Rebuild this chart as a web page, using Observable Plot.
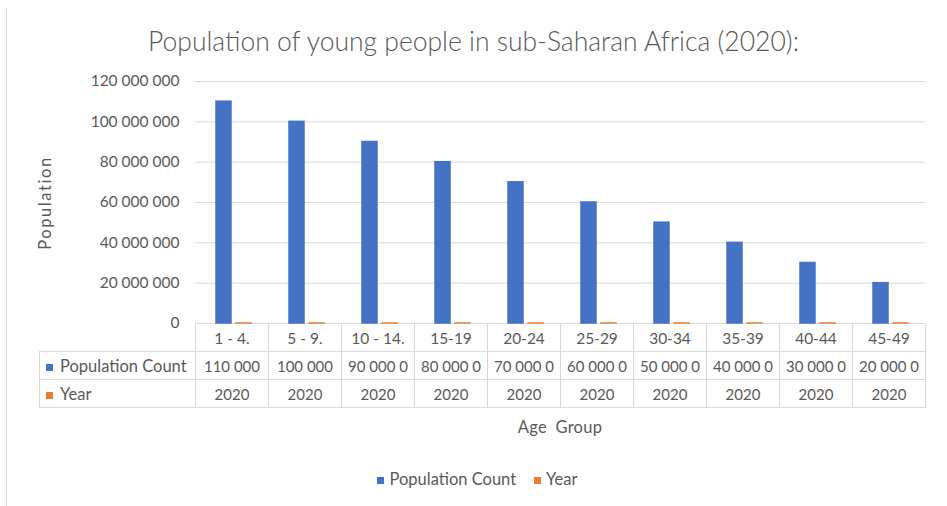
<!DOCTYPE html>
<html>
<head>
<meta charset="utf-8">
<script src="https://cdn.jsdelivr.net/npm/d3@7"></script>
<script src="https://cdn.jsdelivr.net/npm/@observablehq/plot@0.6"></script>
<style>
  html, body { margin: 0; padding: 0; background: #fff; }
  #root { position: relative; width: 947px; height: 506px; overflow: hidden; font-family: Lato, sans-serif; color: #595959; }
  #frame { position: absolute; left: 6px; top: 8px; width: 1px; height: 500px; background: #d9d9d9; }
  #title { position: absolute; left: 0; width: 947px; top: 26px; text-align: center; font-size: 26.5px; font-weight: 300; line-height: 30px; }
  #ylabel { position: absolute; left: 45px; top: 203px; transform: translate(-50%, -50%) rotate(-90deg); font-size: 16.5px; white-space: nowrap; letter-spacing: 1.6px; }
  #chart { position: absolute; left: 0; top: 60px; z-index: 2; }
  #table { position: absolute; left: 0; top: 0; z-index: 1; }
  .cell { position: absolute; box-sizing: border-box; font-size: 15px; line-height: 28px; height: 29px; text-align: center; white-space: nowrap; overflow: hidden; border: 1px solid #d9d9d9; }
  .grp { font-size: 15.5px; }
  .rowhead { text-align: left; padding-left: 6px; font-size: 16.5px; }
  .sw { display: inline-block; width: 7px; height: 7px; vertical-align: 1px; }
  .rowhead .sw { margin-right: 7px; }
  #xlabel { position: absolute; left: 560px; top: 416px; transform: translateX(-50%); font-size: 16.5px; white-space: nowrap; line-height: 22px; word-spacing: 4px; letter-spacing: 0.3px; }
  #legend { position: absolute; left: 4px; width: 947px; top: 468px; text-align: center; font-size: 16.5px; line-height: 22px; }
  .li { display: inline-block; margin: 0 9px; }
  .li .sw { margin-right: 5px; }
</style>
</head>
<body>
<div id="root">
  <div id="frame"></div>
  <div id="title"></div>
  <div id="ylabel"></div>
  <div id="table"></div>
  <div id="xlabel"></div>
  <div id="legend"></div>
</div>
<script>
const titleText = "Population of young people in sub-Saharan Africa (2020):";
const yLabel = "Population";
const xLabel = "Age Group";
const groups = ["1 - 4.", "5 - 9.", "10 - 14.", "15-19", "20-24", "25-29", "30-34", "35-39", "40-44", "45-49"];
const populationCount = [110000000, 100000000, 90000000, 80000000, 70000000, 60000000, 50000000, 40000000, 30000000, 20000000];
const year = [2020, 2020, 2020, 2020, 2020, 2020, 2020, 2020, 2020, 2020];
const seriesNames = ["Population Count", "Year"];
const seriesColors = ["#4472C4", "#ED7D31"];
const yTicks = [0, 20000000, 40000000, 60000000, 80000000, 100000000, 120000000];

const seriesValues = [populationCount, year];
const data = [];
groups.forEach((g, i) => {
  seriesNames.forEach((s, j) => data.push({group: g, series: s, value: seriesValues[j][i]}));
});
const fmt = v => d3.format(",")(v).replace(/,/g, " ");

const chart = Plot.plot({
  width: 947,
  height: 264,
  marginTop: 21,
  marginBottom: 1,
  marginLeft: 193,
  marginRight: 20,
  style: {fontFamily: "Lato, sans-serif", fontSize: "15.5px", color: "#595959", background: "transparent", overflow: "visible"},
  fx: {domain: groups, padding: 0, axis: null, label: null},
  x: {domain: seriesNames, paddingInner: 0.24, paddingOuter: 0.87, align: 0.55, axis: null},
  y: {domain: [0, 120000000], ticks: yTicks, tickFormat: fmt, tickSize: 0, tickPadding: 16, label: null},
  color: {domain: seriesNames, range: seriesColors},
  marks: [
    Plot.ruleY(yTicks, {stroke: "#d9d9d9", strokeWidth: 1}),
    Plot.barY(data, {fx: "group", x: "series", y: "value", fill: "series", stroke: "series", strokeWidth: 1.5})
  ]
});
chart.id = "chart";
document.getElementById("root").appendChild(chart);

document.getElementById("title").textContent = titleText;
document.getElementById("ylabel").textContent = yLabel;
document.getElementById("xlabel").textContent = xLabel;

// data table beneath the plot, aligned with the fx scale
const fx = chart.scale("fx");
const y = chart.scale("y");
const top0 = 60 + y.apply(0);
const rowH = 28;
const tableLeft = 39;
const canvas = document.createElement("canvas");
const ctx = canvas.getContext("2d");
ctx.font = "15px Lato";
function fit(text, w) {
  let t = text;
  while (t.length && ctx.measureText(t).width > w) t = t.slice(0, -1);
  return t.trimEnd();
}
const table = document.getElementById("table");
function cell(x, yy, w, html, cls) {
  const d = document.createElement("div");
  d.className = "cell" + (cls ? " " + cls : "");
  d.style.left = x + "px";
  d.style.top = yy + "px";
  d.style.width = (w + 1) + "px";
  d.innerHTML = html;
  table.appendChild(d);
}
const rows = [groups, populationCount.map(fmt), year.map(String)];
rows.forEach((r, ri) => {
  r.forEach((t, i) => {
    const x0 = fx.apply(groups[i]);
    cell(x0, top0 + ri * rowH, fx.bandwidth, fit(t, fx.bandwidth - 6), ri === 0 ? "grp" : "");
  });
  if (ri > 0) {
    const x0 = fx.apply(groups[0]);
    cell(tableLeft, top0 + ri * rowH, x0 - tableLeft,
      `<span class="sw" style="background:${seriesColors[ri - 1]}"></span>${seriesNames[ri - 1]}`, "rowhead");
  }
});

const legend = document.getElementById("legend");
legend.innerHTML = seriesNames.map((s, i) =>
  `<span class="li"><span class="sw" style="background:${seriesColors[i]}"></span>${s}</span>`).join("");
</script>
</body>
</html>
